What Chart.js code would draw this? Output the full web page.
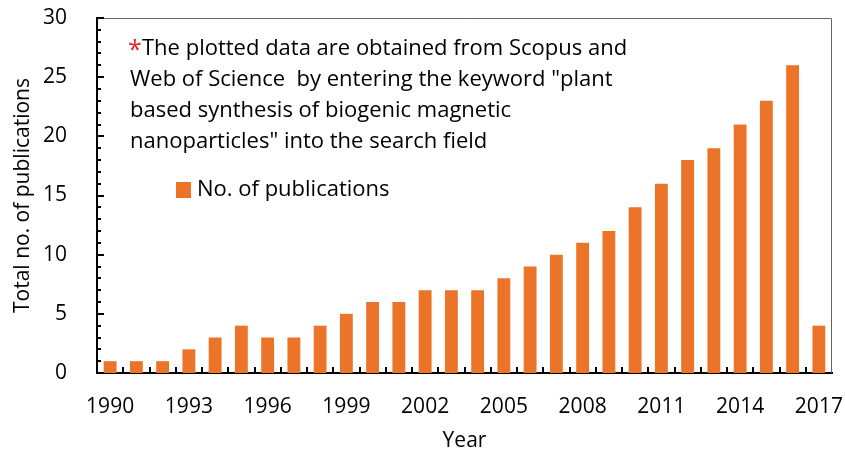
<!DOCTYPE html>
<html>
<head>
<meta charset="utf-8">
<script src="https://cdn.jsdelivr.net/npm/chart.js@4"></script>
<style>
  html, body { margin: 0; padding: 0; background: #fff; }
  #wrap { width: 845px; height: 454px; }
</style>
</head>
<body>
<div id="wrap"><canvas id="pubChart" width="845" height="454"></canvas></div>
<script>
// ---- DATA ----
const years = [1990, 1991, 1992, 1993, 1994, 1995, 1996, 1997, 1998, 1999,
               2000, 2001, 2002, 2003, 2004, 2005, 2006, 2007, 2008, 2009,
               2010, 2011, 2012, 2013, 2014, 2015, 2016, 2017];
const publications = [1, 1, 1, 2, 3, 4, 3, 3, 4, 5,
                      6, 6, 7, 7, 7, 8, 9, 10, 11, 12,
                      14, 16, 18, 19, 21, 23, 26, 4];
const seriesName = 'No. of publications';
const noteLines = [
  'The plotted data are obtained from Scopus and',
  'Web of Science  by entering the keyword "plant',
  'based synthesis of biogenic magnetic',
  'nanoparticles" into the search field'
];

const FONT = '"Open Sans", Lato, sans-serif';
const BAR_COLOR = '#EB7429';
const TEXT_COLOR = '#000';

// ---- plugin: inner ticks, frame, note and legend ----
const decorPlugin = {
  id: 'decor',
  afterDraw(chart) {
    const c = chart.ctx;
    const area = chart.chartArea;
    const x = chart.scales.x;
    const y = chart.scales.y;
    c.save();

    // thin frame on top/right
    c.strokeStyle = '#666';
    c.lineWidth = 1;
    c.beginPath();
    c.moveTo(area.left, area.top + 0.5);
    c.lineTo(area.right - 0.5, area.top + 0.5);
    c.lineTo(area.right - 0.5, area.bottom);
    c.stroke();

    // y ticks, pointing inside (major every 5, minor every 1)
    c.strokeStyle = '#000';
    c.lineWidth = 2;
    for (let v = 0; v <= 30; v++) {
      const py = Math.round(y.getPixelForValue(v));
      const len = v % 5 === 0 ? 7 : 4;
      c.beginPath();
      c.moveTo(area.left, py);
      c.lineTo(area.left + len, py);
      c.stroke();
    }

    // x ticks at category boundaries, pointing up
    const half = (x.getPixelForValue(1) - x.getPixelForValue(0)) / 2;
    for (let i = 1; i < years.length; i++) {
      const px = Math.round(x.getPixelForValue(i) - half);
      c.beginPath();
      c.moveTo(px, area.bottom);
      c.lineTo(px, area.bottom - 6);
      c.stroke();
    }

    // note text
    c.textBaseline = 'alphabetic';
    c.textAlign = 'left';
    c.fillStyle = '#e8242b';
    c.font = '25px ' + FONT;
    c.fillText('*', 128, 58);
    c.font = '22px ' + FONT;
    c.fillStyle = TEXT_COLOR;
    noteLines.forEach((line, i) => {
      c.fillText(line, i === 0 ? 142 : 130, 55 + i * 31);
    });

    // legend
    c.fillStyle = BAR_COLOR;
    c.fillRect(176, 182, 15, 16);
    c.fillStyle = TEXT_COLOR;
    c.textBaseline = 'middle';
    c.fillText(seriesName, 197, 190);

    c.restore();
  }
};

const ctx = document.getElementById('pubChart').getContext('2d');
new Chart(ctx, {
  type: 'bar',
  data: {
    labels: years.map(String),
    datasets: [{
      label: seriesName,
      data: publications,
      backgroundColor: BAR_COLOR,
      borderWidth: 0,
      barPercentage: 0.49,
      categoryPercentage: 1.0
    }]
  },
  options: {
    responsive: false,
    animation: false,
    layout: { padding: { left: 0, right: 13, top: 18, bottom: 0 } },
    plugins: {
      legend: { display: false },
      tooltip: { enabled: false }
    },
    scales: {
      x: {
        grid: { display: false },
        border: { display: true, color: '#000', width: 2 },
        ticks: {
          autoSkip: false,
          maxRotation: 0,
          padding: 13,
          color: TEXT_COLOR,
          font: { family: FONT, size: 21 },
          callback: function (val, idx) {
            return idx % 3 === 0 ? years[idx] : '';
          }
        },
        title: {
          display: true,
          text: 'Year',
          color: TEXT_COLOR,
          font: { family: FONT, size: 21 },
          padding: { top: 5, bottom: 0 }
        },
        afterFit(scale) {
          scale.height = 81;
          scale.paddingLeft = 0;
          scale.paddingRight = 0;
        }
      },
      y: {
        min: 0,
        max: 30,
        grid: { display: false },
        border: { display: true, color: '#000', width: 2 },
        ticks: {
          stepSize: 5,
          padding: 22,
          color: TEXT_COLOR,
          font: { family: FONT, size: 21 }
        },
        title: {
          display: true,
          text: 'Total no. of publications',
          color: TEXT_COLOR,
          font: { family: FONT, size: 21 },
          padding: { top: 10, bottom: 4 }
        },
        afterFit(scale) {
          scale.width = 97;
          scale.paddingTop = 0;
          scale.paddingBottom = 0;
        }
      }
    }
  },
  plugins: [decorPlugin]
});
</script>
</body>
</html>
